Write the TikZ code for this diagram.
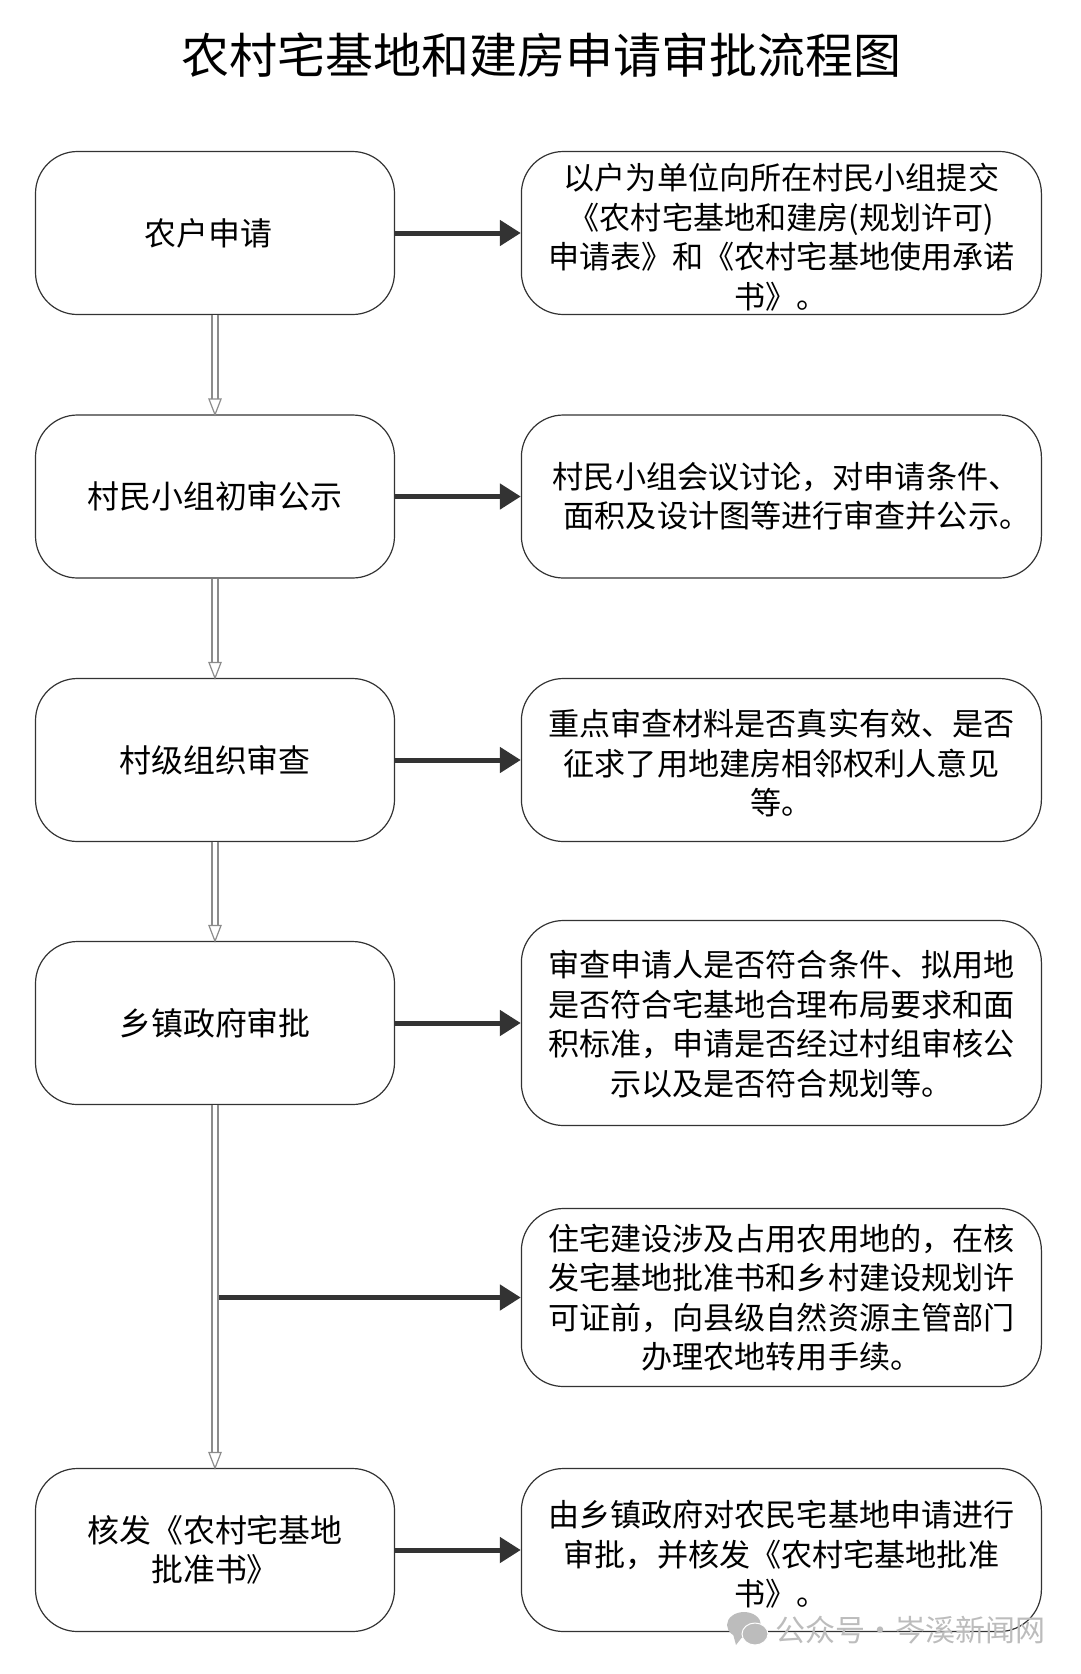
\documentclass[tikz,border=0pt]{standalone}
\usepackage{fontspec}
\setmainfont{Noto Sans CJK SC}
\usepackage{tikz}
\usetikzlibrary{arrows.meta,calc,positioning}
\definecolor{darkline}{HTML}{333333}
\definecolor{hollowline}{HTML}{8c8c8c}
\definecolor{markgray}{HTML}{bcbcbc}
\newcommand{\linedrop}[1]{\rule{0pt}{\dimexpr 27pt+2pt*#1\relax}}
\tikzset{
	leftbox/.style={draw=darkline,line width=1.2pt,rounded corners=42pt,minimum width=359pt,minimum height=163pt,align=center,inner sep=0pt,font=\fontsize{31.9}{39.5}\selectfont},
	rightbox/.style={draw=darkline,line width=1.2pt,rounded corners=42pt,minimum width=520pt,align=center,inner sep=0pt,font=\fontsize{31.1}{39.5}\selectfont},
	stronglink/.style={draw=darkline,line width=5pt,-{Triangle[length=21pt,width=25pt]}},
	hollowlink/.style={draw=hollowline,double=white,double distance=4.4pt,line width=1.4pt,shorten >=-2pt,-{Triangle[length=18pt,width=13.5pt,fill=white,line width=1.2pt]}}
}

\begin{document}
\begin{tikzpicture}[x=1pt,y=-1pt]
	\useasboundingbox (0,0) rectangle (1080,1674);
	\begin{scope}
		\draw (541,55) node[inner sep=0pt,font=\fontsize{48}{50}\selectfont](title) {农村宅基地和建房申请审批流程图};

		\draw (215,233) node[leftbox](apply) {农户申请\hspace*{.4em}};
		\draw (215,496.5) node[leftbox](group) {村民小组初审公示};
		\draw (215,760) node[leftbox](village) {村级组织审查};
		\draw (215,1023) node[leftbox](town) {乡镇政府审批};
		\draw (215,1550) node[leftbox](issue) {核发《农村宅基地\\批准书》};

		\draw (781.4,233) node[rightbox,minimum height=163pt](applytext)
					{\linedrop{4}以户为单位向所在村民小组提交\\《农村宅基地和建房(规划许可)\\申请表》和《农村宅基地使用承诺\\书》。};
		\draw (781.4,496.5) node[rightbox,minimum height=163pt](grouptext)
					{\hspace*{.3em}村民小组会议讨论，对申请条件、\\\hspace*{1em}面积及设计图等进行审查并公示。};
		\draw (781.4,760) node[rightbox,minimum height=163pt](villagetext)
					{\linedrop{3}重点审查材料是否真实有效、是否\\征求了用地建房相邻权利人意见\\等。};
		\draw (781.4,1023) node[rightbox,minimum height=205pt](towntext)
					{\linedrop{1}审查申请人是否符合条件、拟用地\\是否符合宅基地合理布局要求和面\\积标准，申请是否经过村组审核公\\示以及是否符合规划等。};
		\draw (781.4,1297.5) node[rightbox,minimum height=178pt](landtext)
					{住宅建设涉及占用农用地的，在核\\发宅基地批准书和乡村建设规划许\\可证前，向县级自然资源主管部门\\办理农地转用手续。};
		\draw (781.4,1550) node[rightbox,minimum height=163pt](issuetext)
					{\linedrop{4}由乡镇政府对农民宅基地申请进行\\审批，并核发《农村宅基地批准\\书》。};

		\draw [hollowlink] (apply.south) -- (group.north);
		\draw [hollowlink] (group) -- (village);
		\draw [hollowlink] (village) -- (town);
		\draw [hollowlink] (town) -- (issue);

		\draw [stronglink] (apply) -- (applytext);
		\draw [stronglink] (group) -- (grouptext);
		\draw [stronglink] (village) -- (villagetext);
		\draw [stronglink] (town) -- (towntext);
		\draw [stronglink] (issue) -- (issuetext);

		\coordinate (branch) at (219,1297.5);
		\draw [stronglink] (branch) -- (landtext);

		\fill[markgray] (744,1625) ellipse (17pt and 13pt);
		\fill[markgray] (733,1634) -- (736,1645) -- (743,1636) -- cycle;
		\filldraw[markgray,draw=white,line width=1pt] (755,1634) ellipse (13pt and 11pt);
		\draw (910,1630) node[inner sep=0pt,text=markgray,font=\fontsize{30}{32}\selectfont](mark) {公众号·岑溪新闻网};
	\end{scope}
\end{tikzpicture}
\end{document}
